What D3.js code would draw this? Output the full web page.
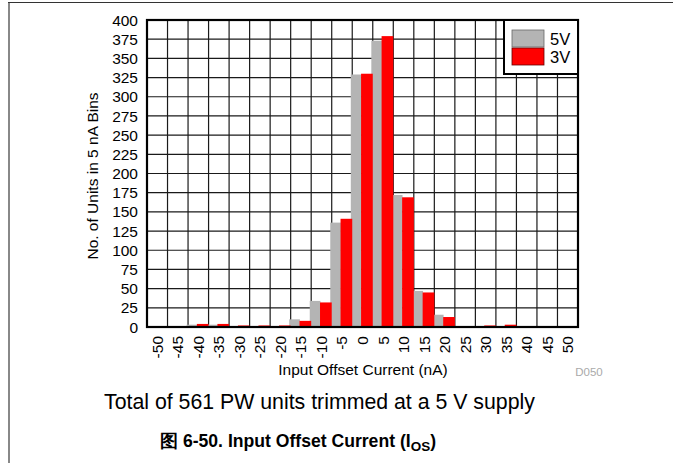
<!DOCTYPE html>
<html><head><meta charset="utf-8">
<script src="https://cdn.jsdelivr.net/npm/d3@7"></script>
<style>
html,body{margin:0;padding:0;background:#fff;}
svg{display:block;font-family:"Liberation Sans",Arial,sans-serif;}
</style></head><body>
<svg id="chart" width="673" height="463"></svg>
<script>
const categories = ["-50","-45","-40","-35","-30","-25","-20","-15","-10","-5","0","5","10","15","20","25","30","35","40","45","50"];
const series5V = [0,0,3,3,0,1,0,10,34,136,329,373,172,47,16,1,1,1,0,0,0];
const series3V = [1,1,4,4,2,2,2,8,32,141,330,379,169,45,13,1,2,3,1,1,1];
const yTicks = [0,25,50,75,100,125,150,175,200,225,250,275,300,325,350,375,400];
const seriesNames = ["5V","3V"];
const seriesColors = ["#b4b4b4","#ff0000"];

const svg = d3.select("#chart");
const L = 147, R = 578, T = 20, B = 327;

// document frame
svg.append("line").attr("x1",8).attr("x2",673).attr("y1",2.5).attr("y2",2.5).attr("stroke","#333").attr("stroke-width",1);
svg.append("line").attr("x1",9).attr("x2",9).attr("y1",3).attr("y2",463).attr("stroke","#888").attr("stroke-width",2);

const x = d3.scaleBand().domain(categories).range([L,R]).padding(0);
const y = d3.scaleLinear().domain([0,400]).range([B,T]);
const bw = x.bandwidth();

// grid
const g = svg.append("g");
g.selectAll(".hg").data(yTicks.slice(1,-1)).join("line")
  .attr("x1",L).attr("x2",R).attr("y1",d=>y(d)).attr("y2",d=>y(d))
  .attr("stroke","#1a1a1a").attr("stroke-width",1.2);
g.selectAll(".vg").data(categories.slice(1)).join("line")
  .attr("x1",d=>x(d)).attr("x2",d=>x(d)).attr("y1",T).attr("y2",B)
  .attr("stroke","#1a1a1a").attr("stroke-width",1.2);

// bars
const bars = svg.append("g");
bars.selectAll(".b5").data(categories).join("rect")
  .attr("x",d=>x(d)-0.07*bw).attr("width",0.52*bw)
  .attr("y",(d,i)=>y(series5V[i])).attr("height",(d,i)=>B-y(series5V[i]))
  .attr("fill",seriesColors[0]);
bars.selectAll(".b3").data(categories).join("rect")
  .attr("x",d=>x(d)+0.43*bw).attr("width",0.57*bw)
  .attr("y",(d,i)=>y(series3V[i])).attr("height",(d,i)=>B-y(series3V[i]))
  .attr("fill",seriesColors[1]);

// plot border
svg.append("rect").attr("x",L).attr("y",T).attr("width",R-L).attr("height",B-T)
  .attr("fill","none").attr("stroke","#000").attr("stroke-width",2.2);

// y axis labels
svg.append("g").selectAll("text").data(yTicks).join("text")
  .attr("x",138).attr("y",d=>y(d)).attr("dy","0.36em")
  .attr("text-anchor","end").attr("font-size",15.5).attr("fill","#000").text(d=>d);

// x axis labels (rotated)
svg.append("g").selectAll("text").data(categories).join("text")
  .attr("transform",d=>`translate(${x(d)+bw/2+5.5},336) rotate(-90)`)
  .attr("text-anchor","end").attr("font-size",15.5).attr("fill","#000").text(d=>d);

// axis titles
svg.append("text").attr("transform","translate(98,176) rotate(-90)")
  .attr("text-anchor","middle").attr("font-size",15.5).text("No. of Units in 5 nA Bins");
svg.append("text").attr("x",363).attr("y",375).attr("text-anchor","middle")
  .attr("font-size",15.5).text("Input Offset Current (nA)");
svg.append("text").attr("x",589).attr("y",376).attr("text-anchor","middle")
  .attr("font-size",11.5).attr("fill","#aaa").text("D050");

// legend
const lg = svg.append("g");
lg.append("rect").attr("x",504).attr("y",T).attr("width",R-504).attr("height",54)
  .attr("fill","#fff").attr("stroke","#000").attr("stroke-width",2);
seriesNames.forEach((n,i)=>{
  lg.append("rect").attr("x",512).attr("y",30+i*18).attr("width",32).attr("height",17)
    .attr("fill",seriesColors[i]).attr("stroke",i===1?"#600":"#666").attr("stroke-width",0.8);
  lg.append("text").attr("x",550).attr("y",45+i*18).attr("font-size",16.5).text(n);
});

// captions
svg.append("text").attr("x",104).attr("y",409).attr("font-size",21.3).text("Total of 561 PW units trimmed at a 5 V supply");
const t = svg.append("text").attr("x",160).attr("y",447).attr("font-size",17.6).attr("font-weight","bold");
t.append("tspan").text("图 6-50. Input Offset Current (I");
t.append("tspan").attr("font-size",13.5).attr("dy",4).text("OS");
t.append("tspan").attr("dy",-4).text(")");
</script>
</body></html>
